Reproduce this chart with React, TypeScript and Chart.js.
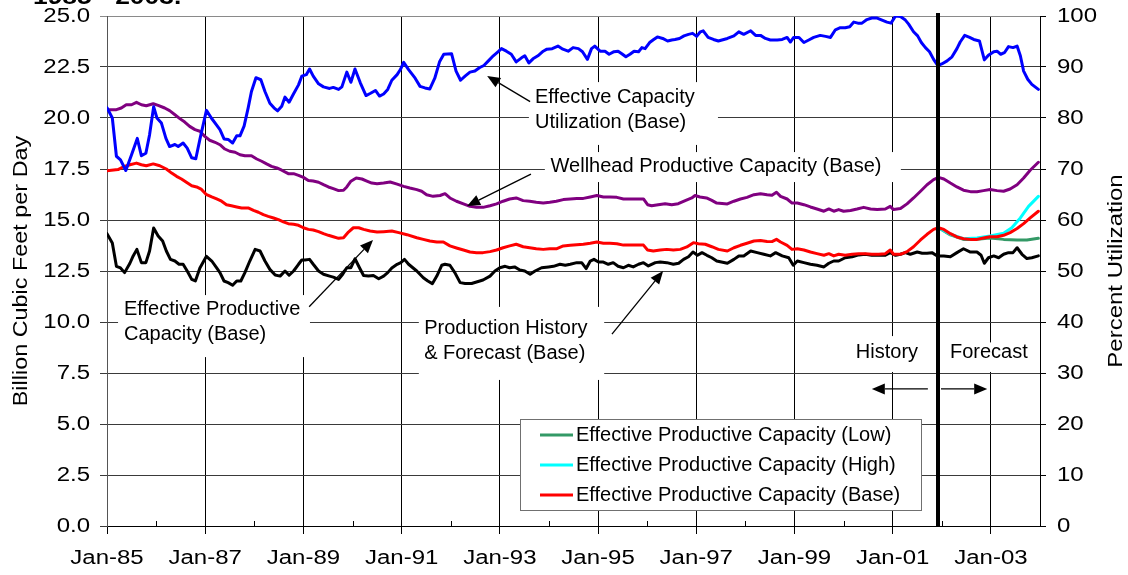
import React, { useEffect, useRef } from 'react';
import { Chart, registerables } from 'chart.js';

Chart.register(...registerables);

const FONT = '"Liberation Sans", Arial, Helvetica, sans-serif';

// x values are months after Jan-85
const X_MAX = 228;
const FORECAST_START = 203;
const X_MAJOR_TICKS = [0, 24, 48, 72, 96, 120, 144, 168, 192, 216];
const X_TICK_LABELS = ['Jan-85', 'Jan-87', 'Jan-89', 'Jan-91', 'Jan-93', 'Jan-95', 'Jan-97', 'Jan-99', 'Jan-01', 'Jan-03'];
const X_MINOR_TICKS = [12, 36, 60, 84, 108, 132, 156, 180, 204];
const LEFT_TICKS = [0, 2.5, 5, 7.5, 10, 12.5, 15, 17.5, 20, 22.5, 25];
const RIGHT_TICKS = [0, 10, 20, 30, 40, 50, 60, 70, 80, 90, 100];

const UTILIZATION_BASE: [number, number][] = [
  [0, 82], [1.3, 80], [2.3, 72.5], [3.3, 71.8], [4.6, 69.7], [6, 72.8], [7.4, 76], [8.4, 72.6], [9.5, 73.1], [10.4, 76.7],
  [11.4, 82.2], [12.2, 80], [13.3, 79], [14.4, 76], [15.3, 74.4], [16.6, 74.8], [17.4, 74.4], [18.6, 75.1], [19.6, 74.1],
  [20.7, 72.2], [21.7, 72], [22.7, 75.8], [24.3, 81.5], [25.5, 80], [26.7, 78.7], [27.6, 77.7], [28.6, 75.9], [29.6, 75.8],
  [30.7, 75.1], [31.7, 76.5], [32.5, 76.5], [33.5, 78.4], [34.5, 82], [35.3, 85.2], [36.4, 87.9], [37.6, 87.5], [38.6, 85.2],
  [39.8, 82.9], [40.8, 82], [41.7, 81.4], [42.7, 82.3], [43.5, 84.1], [44.5, 83.1], [45.5, 84.6], [46.8, 86.5], [47.6, 88.2],
  [48.7, 88.5], [49.5, 89.6], [50.4, 88.2], [51.7, 86.7], [52.9, 86.1], [54.4, 85.8], [55.3, 86], [56.6, 85.6], [57.4, 86.1],
  [58.6, 89], [59.6, 87], [60.6, 89.6], [61.9, 86.9], [63.3, 84.4], [64.3, 84.8], [65.6, 85.4], [66.6, 84.3], [67.6, 84.7],
  [68.6, 85.6], [69.6, 87.4], [70.9, 88.5], [71.7, 89.5], [72.5, 90.9], [73.7, 89.5], [75.3, 87.8], [76.5, 86.2], [77.7, 85.9],
  [78.9, 85.7], [80.1, 87.8], [81.3, 91.1], [82.3, 92.5], [84.2, 92.6], [85.3, 89.2], [86.4, 87.4], [87.5, 88.2], [88.7, 89],
  [89.9, 89.2], [91.1, 89.9], [92.1, 90.3], [93.2, 91.2], [94.4, 92.2], [95.6, 93], [96.4, 93.6], [97.6, 93.1], [98.8, 92.5],
  [100, 91], [101.3, 91.8], [102.1, 92.2], [103.1, 90.8], [104.1, 91.6], [105.3, 92.2], [106.6, 93.1], [107.5, 93.5],
  [108.8, 93.6], [110.2, 94.1], [111.4, 93.5], [112.7, 93.1], [113.9, 93.8], [115.2, 93.6], [116.2, 93], [117.4, 91.5],
  [118.4, 93.6], [119.2, 94.1], [120.5, 93.1], [121.7, 93.1], [122.7, 92.5], [123.9, 93], [124.9, 93.1], [125.8, 92.6],
  [126.8, 92], [127.8, 92.5], [128.8, 93.1], [129.9, 93], [130.7, 93.8], [131.5, 93.6], [132.6, 94.8], [133.6, 95.4],
  [134.5, 95.9], [135.8, 95.6], [137, 95.1], [138, 95.3], [138.8, 95.4], [139.9, 95.6], [141, 96.1], [142.1, 96.4],
  [143.1, 96.6], [144.1, 96], [145, 96.9], [145.7, 97.1], [146.9, 95.8], [148.2, 95.4], [149.4, 95.1], [151.6, 95.6],
  [153.2, 96.1], [154.4, 96.9], [155.6, 96.4], [157.3, 97.1], [158.5, 96.2], [159.7, 96.2], [160.9, 95.6], [162.1, 95.3],
  [163.8, 95.3], [165, 95.4], [166.2, 95.8], [167, 94.9], [167.8, 95.8], [169.1, 95.8], [170.3, 94.8], [171.5, 95.3],
  [172.7, 95.8], [174.3, 96.2], [175.6, 96], [176.8, 95.8], [178, 97.3], [179.2, 97.7], [180.4, 97.7], [181.5, 97.9],
  [182.5, 98.8], [183.5, 98.6], [184.5, 98.6], [185.7, 99.3], [186.9, 99.6], [188.2, 99.6], [189.4, 99.2], [190.6, 98.8],
  [191.6, 98.6], [192.7, 100], [193.9, 99.9], [195.1, 99.2], [195.9, 98.4], [197.1, 96.9], [198.1, 96.1], [199, 94.8],
  [200, 93.8], [201, 93], [202, 91.5], [203, 90.3], [204, 90.6], [205.3, 91.2], [206.5, 92], [207.7, 93.6], [208.5, 94.9],
  [209.6, 96.2], [210.8, 95.8], [211.8, 95.4], [213.2, 95.1], [214.4, 91.4], [215.4, 92.3], [216.7, 93], [217.5, 93.1],
  [218.4, 92.5], [219.3, 92.8], [220.3, 94], [221.4, 93.8], [222.4, 94.1], [223.2, 92.2], [224, 89.2], [225, 87.6],
  [226, 86.6], [227.6, 85.6],
];

const WELLHEAD_BASE: [number, number][] = [
  [0, 20.41], [2.3, 20.41], [3.5, 20.49], [4.7, 20.65], [6, 20.65], [7.2, 20.77], [8.4, 20.65], [9.6, 20.6], [11.3, 20.7],
  [12.5, 20.62], [14.1, 20.49], [15.3, 20.36], [16.6, 20.16], [17.8, 19.97], [19, 19.8], [20.2, 19.59], [21.5, 19.43],
  [22.7, 19.35], [23.9, 19.1], [25.1, 18.91], [26.4, 18.81], [27.6, 18.69], [28.8, 18.48], [30, 18.37], [31.3, 18.32],
  [32.5, 18.2], [33.7, 18.15], [35.3, 18.15], [36.6, 17.99], [37.8, 17.88], [39, 17.75], [40.2, 17.63], [41.5, 17.55],
  [42.7, 17.44], [44.3, 17.27], [45.6, 17.27], [46.8, 17.19], [48, 17.09], [49.2, 16.94], [50.4, 16.91], [51.7, 16.85],
  [52.9, 16.73], [54.1, 16.62], [55.3, 16.54], [56.6, 16.44], [57.8, 16.46], [58.6, 16.62], [59.6, 16.9], [60.9, 17.06],
  [62.3, 17.01], [63.5, 16.91], [64.7, 16.81], [66, 16.78], [67.6, 16.81], [69.2, 16.86], [70.9, 16.76], [72.5, 16.65],
  [74, 16.57], [75.7, 16.49], [76.9, 16.41], [78.1, 16.24], [79.7, 16.16], [81.4, 16.2], [82.6, 16.29], [83.8, 16.08],
  [85.4, 15.92], [87.1, 15.79], [88.7, 15.67], [90.3, 15.62], [91.9, 15.62], [93.6, 15.7], [95.2, 15.79], [96.8, 15.92],
  [98.4, 16.03], [100, 16.08], [101.7, 15.95], [103.3, 15.92], [104.9, 15.87], [106.6, 15.83], [108.2, 15.87], [109.8, 15.92],
  [111.5, 16.0], [113.2, 16.03], [114.8, 16.05], [116.4, 16.06], [118.1, 16.13], [119.7, 16.2], [121.3, 16.13], [122.9, 16.13],
  [124.6, 16.11], [126.2, 16.03], [127.8, 16.03], [129.5, 16.03], [131.1, 16.03], [132.1, 15.75], [133.1, 15.7], [134.7, 15.75],
  [136.4, 15.8], [138, 15.75], [139.6, 15.8], [141.3, 15.95], [142.9, 16.08], [143.7, 16.2], [144.9, 16.13], [146.5, 16.08],
  [147.8, 15.96], [149, 15.83], [151.6, 15.79], [153.2, 15.92], [154.8, 16.03], [156.4, 16.11], [158.1, 16.24], [159.7, 16.29],
  [161.3, 16.24], [162.5, 16.21], [163.6, 16.36], [164.6, 16.16], [166.2, 16.03], [167.4, 15.83], [168.7, 15.83], [170.3, 15.75],
  [171.9, 15.64], [173.5, 15.54], [175.2, 15.43], [176.4, 15.54], [177.6, 15.43], [178.8, 15.51], [180, 15.43], [181.7, 15.47],
  [183.3, 15.54], [184.9, 15.62], [186.6, 15.54], [188.2, 15.51], [190.2, 15.54], [191.4, 15.67], [192.2, 15.51], [193.9, 15.56],
  [195.5, 15.79], [197.1, 16.08], [198.8, 16.41], [200.4, 16.73], [202, 16.98], [203.2, 17.09], [204.5, 17.01], [206.1, 16.81],
  [207.7, 16.62], [209.3, 16.46], [211, 16.39], [212.6, 16.39], [214.2, 16.44], [215.8, 16.49], [217.5, 16.44], [219.1, 16.41],
  [220.7, 16.52], [222.4, 16.73], [224, 17.06], [225.6, 17.44], [227.6, 17.83],
];

const EFFECTIVE_BASE: [number, number][] = [
  [0, 17.42], [2.7, 17.47], [3.9, 17.6], [5.6, 17.71], [7.2, 17.79], [8.4, 17.71], [9.6, 17.66], [11.3, 17.75], [12.9, 17.66],
  [14.5, 17.5], [15.8, 17.3], [17, 17.14], [18.2, 17.01], [19.4, 16.85], [20.7, 16.68], [21.9, 16.62], [23.1, 16.5],
  [24.2, 16.26], [25.6, 16.13], [26.8, 16.03], [28, 15.92], [29.2, 15.75], [30.4, 15.7], [31.7, 15.64], [32.9, 15.59],
  [34.5, 15.59], [35.8, 15.47], [37, 15.38], [38.2, 15.26], [39.4, 15.18], [40.7, 15.1], [41.9, 15.02], [43.1, 14.91],
  [44.3, 14.82], [45.6, 14.79], [46.8, 14.74], [48, 14.62], [49.2, 14.54], [50.4, 14.51], [51.7, 14.43], [52.9, 14.33],
  [54.1, 14.25], [55.3, 14.18], [56.6, 14.1], [57.8, 14.13], [59, 14.41], [60.2, 14.62], [61.5, 14.62], [62.7, 14.54],
  [64.3, 14.46], [66, 14.41], [67.6, 14.43], [69.6, 14.46], [71.3, 14.38], [73.3, 14.28], [75.7, 14.13], [77.3, 14.05],
  [78.9, 13.97], [80.6, 13.92], [82.2, 13.92], [83.8, 13.73], [85.4, 13.63], [87.1, 13.53], [88.7, 13.43], [90.3, 13.4],
  [91.9, 13.4], [93.6, 13.45], [95.2, 13.53], [96.8, 13.64], [98.4, 13.73], [100, 13.81], [101.7, 13.69], [103.3, 13.64],
  [104.9, 13.59], [106.6, 13.56], [108.2, 13.59], [109.8, 13.59], [111.5, 13.73], [113.2, 13.76], [114.8, 13.79],
  [116.4, 13.81], [118.1, 13.86], [119.7, 13.92], [121.3, 13.86], [122.9, 13.86], [124.6, 13.84], [126.2, 13.77],
  [127.8, 13.77], [129.5, 13.77], [131.1, 13.77], [132.1, 13.53], [133.5, 13.48], [135.2, 13.53], [136.8, 13.56],
  [138.4, 13.53], [140.1, 13.56], [141.7, 13.68], [143.3, 13.89], [144.5, 13.84], [146.2, 13.81], [147.8, 13.69],
  [149.4, 13.56], [151.6, 13.48], [153.2, 13.64], [154.8, 13.76], [156.4, 13.86], [158.1, 13.97], [159.7, 13.99],
  [161.3, 13.95], [162.5, 13.94], [163.6, 14.05], [164.6, 13.92], [166.2, 13.76], [167.4, 13.56], [168.7, 13.59],
  [170.3, 13.53], [171.9, 13.43], [173.5, 13.35], [175.2, 13.27], [176.4, 13.35], [177.6, 13.24], [178.8, 13.32],
  [180.4, 13.27], [182.1, 13.32], [183.7, 13.35], [185.3, 13.35], [186.9, 13.32], [188.6, 13.32], [190.2, 13.35],
  [191.4, 13.53], [192.2, 13.32], [193.9, 13.32], [195.5, 13.45], [197.1, 13.69], [198.8, 14.02], [200.4, 14.3],
  [202, 14.54], [203.2, 14.62], [204.5, 14.54], [206.1, 14.33], [207.7, 14.17], [209.3, 14.08], [211, 14.05],
  [212.6, 14.05], [214.2, 14.12], [215.8, 14.18], [217.5, 14.18], [219.1, 14.25], [220.7, 14.38], [222.4, 14.58],
  [224, 14.82], [225.6, 15.1], [227.6, 15.43],
];

const EFFECTIVE_HIGH: [number, number][] = [
  [203.2, 14.62], [206.1, 14.3], [209.3, 14.08], [212.6, 14.12], [215.8, 14.22], [219.1, 14.35], [221.1, 14.62],
  [223.2, 15.1], [225.2, 15.67], [227.6, 16.16],
];

const EFFECTIVE_LOW: [number, number][] = [
  [203.2, 14.62], [206.1, 14.27], [209.3, 14.05], [212.6, 14.05], [215.8, 14.12], [219.1, 14.05], [222.4, 14.02],
  [224.8, 14.02], [227.6, 14.1],
];

const PRODUCTION_BASE: [number, number][] = [
  [0, 14.33], [1.3, 13.87], [2.3, 12.73], [3.3, 12.65], [4.3, 12.42], [5.6, 12.88], [6.4, 13.24], [7.3, 13.56], [8.4, 12.91],
  [9.5, 12.91], [10.4, 13.48], [11.4, 14.61], [12.5, 14.22], [13.6, 13.97], [14.5, 13.48], [15.5, 13.07], [16.6, 12.99],
  [17.6, 12.83], [18.6, 12.83], [19.6, 12.5], [20.7, 12.09], [21.6, 12.01], [22.7, 12.65], [24.3, 13.22], [25.6, 12.99],
  [26.8, 12.65], [27.6, 12.42], [28.6, 12.01], [29.6, 11.93], [30.7, 11.8], [31.7, 12.01], [32.7, 12.01], [33.7, 12.42],
  [34.9, 12.99], [36.2, 13.56], [37.4, 13.48], [38.6, 12.99], [39.8, 12.58], [41.1, 12.3], [42.3, 12.25], [43.5, 12.5],
  [44.5, 12.29], [45.6, 12.5], [46.8, 12.83], [47.6, 13.04], [48.4, 13.04], [49.5, 13.07], [50.4, 12.83], [51.7, 12.5],
  [52.9, 12.34], [54.4, 12.25], [55.3, 12.2], [56.6, 12.09], [57.6, 12.34], [58.6, 12.66], [59.6, 12.66], [60.6, 13.1],
  [61.7, 12.66], [62.7, 12.28], [63.9, 12.25], [65.1, 12.28], [66.4, 12.12], [67.6, 12.25], [68.6, 12.42], [69.6, 12.65],
  [70.9, 12.83], [71.8, 12.91], [72.7, 13.07], [73.7, 12.83], [75.7, 12.5], [77.3, 12.17], [78.4, 12.01], [79.5, 11.88],
  [80.6, 12.25], [81.8, 12.78], [82.6, 12.83], [83.8, 12.78], [85, 12.42], [86.3, 11.93], [87.5, 11.89], [89.1, 11.89],
  [90.3, 11.96], [91.9, 12.06], [93.6, 12.25], [94.8, 12.5], [96, 12.66], [97.3, 12.73], [98.4, 12.66], [99.6, 12.7],
  [100.9, 12.55], [102.1, 12.5], [103.4, 12.34], [104.6, 12.5], [106.2, 12.66], [107.9, 12.7], [109.1, 12.73], [110.7, 12.83],
  [112, 12.78], [113.2, 12.83], [114.8, 12.91], [116, 12.91], [117.1, 12.62], [118.1, 12.99], [119, 13.07], [120.1, 12.94],
  [121.3, 12.94], [122.5, 12.83], [123.7, 12.91], [124.9, 12.73], [126.2, 12.66], [127.4, 12.78], [128.6, 12.7], [129.9, 12.83],
  [131.1, 12.91], [132.3, 12.75], [134, 12.91], [135.2, 12.94], [136.8, 12.91], [138.4, 12.83], [139.7, 12.88], [140.9, 13.07],
  [142.1, 13.2], [143.2, 13.43], [144.3, 13.27], [145.4, 13.4], [146.6, 13.27], [147.8, 13.15], [149, 12.99], [151.6, 12.88],
  [153.2, 13.07], [154.4, 13.24], [155.6, 13.24], [157.3, 13.48], [158.9, 13.4], [160.5, 13.32], [162.1, 13.24], [163.4, 13.4],
  [165, 13.24], [166.6, 13.15], [167.7, 12.78], [168.7, 12.99], [170.3, 12.91], [171.9, 12.83], [173.5, 12.78], [175.2, 12.7],
  [176.4, 12.88], [177.6, 12.99], [178.8, 12.99], [180.4, 13.15], [182.1, 13.2], [183.7, 13.29], [185.3, 13.32], [186.9, 13.27],
  [188.6, 13.29], [190.2, 13.27], [191.4, 13.4], [192.7, 13.27], [193.9, 13.32], [195.1, 13.4], [196.3, 13.32], [198, 13.43],
  [199.2, 13.37], [200.4, 13.37], [201.6, 13.4], [202.9, 13.24], [204.5, 13.24], [206.1, 13.2], [207.7, 13.4], [209.3, 13.59],
  [211, 13.43], [212.6, 13.43], [213.6, 13.27], [214.4, 12.88], [215.4, 13.15], [216.7, 13.24], [217.9, 13.15], [219.1, 13.32],
  [220.3, 13.4], [221.4, 13.4], [222.4, 13.64], [223.6, 13.32], [224.8, 13.11], [226, 13.15], [227.6, 13.24],
];

// Annotations in data coordinates (month, billion cubic feet per day)
const LABEL_BOXES = [
  { m1: 103.1, v1: 21.76, m2: 149.3, v2: 18.68 },
  { m1: 107.0, v1: 18.33, m2: 194.0, v2: 16.86 },
  { m1: 2.7, v1: 11.32, m2: 49.6, v2: 8.28 },
  { m1: 76.2, v1: 10.74, m2: 121.5, v2: 7.16 },
  { m1: 181.6, v1: 9.31, m2: 199.9, v2: 7.55 },
  { m1: 204.3, v1: 9.0, m2: 227.0, v2: 7.55 },
];
const LABEL_TEXTS = [
  { m: 104.6, v: 21.0, text: 'Effective Capacity' },
  { m: 104.6, v: 19.77, text: 'Utilization (Base)' },
  { m: 108.4, v: 17.61, text: 'Wellhead Productive Capacity (Base)' },
  { m: 4.15, v: 10.62, text: 'Effective Productive' },
  { m: 4.15, v: 9.41, text: 'Capacity (Base)' },
  { m: 77.5, v: 9.66, text: 'Production History' },
  { m: 77.5, v: 8.47, text: '& Forecast (Base)' },
  { m: 183.0, v: 8.51, text: 'History' },
  { m: 206.0, v: 8.51, text: 'Forecast' },
];
const ARROWS = [
  { m1: 103.4, v1: 20.8, m2: 92.9, v2: 22.06 },
  { m1: 103.6, v1: 17.25, m2: 88.0, v2: 15.69 },
  { m1: 49.4, v1: 10.75, m2: 65.0, v2: 14.02 },
  { m1: 123.4, v1: 9.41, m2: 135.9, v2: 12.5 },
  { m1: 200.6, v1: 6.72, m2: 186.9, v2: 6.72 },
  { m1: 203.8, v1: 6.72, m2: 215.1, v2: 6.72 },
];
const LEGEND_ITEMS = [
  { text: 'Effective Productive Capacity (Low)', color: '#339966' },
  { text: 'Effective Productive Capacity (High)', color: '#00FFFF' },
  { text: 'Effective Productive Capacity (Base)', color: '#FF0000' },
];

const toPts = (a: [number, number][]) => a.map(([x, y]) => ({ x, y }));

function stretched(ctx: CanvasRenderingContext2D, text: string, x: number, y: number, align: CanvasTextAlign, sx: number, rot = 0) {
  ctx.save();
  ctx.translate(x, y);
  if (rot) ctx.rotate(rot);
  ctx.scale(sx, 1);
  ctx.textAlign = align;
  ctx.fillText(text, 0, 0);
  ctx.restore();
}

function arrow(ctx: CanvasRenderingContext2D, x1: number, y1: number, x2: number, y2: number) {
  const ang = Math.atan2(y2 - y1, x2 - x1);
  const len = 13;
  const hw = 5.5;
  const bx = x2 - len * Math.cos(ang);
  const by = y2 - len * Math.sin(ang);
  ctx.beginPath();
  ctx.moveTo(x1, y1);
  ctx.lineTo(bx, by);
  ctx.stroke();
  ctx.beginPath();
  ctx.moveTo(x2, y2);
  ctx.lineTo(bx + hw * Math.sin(ang), by - hw * Math.cos(ang));
  ctx.lineTo(bx - hw * Math.sin(ang), by + hw * Math.cos(ang));
  ctx.closePath();
  ctx.fill();
}

const overlayPlugin = {
  id: 'overlay',
  beforeDatasetsDraw(chart: any) {
    const { ctx, scales } = chart;
    const xs = scales.x;
    const ys = scales.y;
    ctx.save();
    ctx.fillStyle = '#ffffff';
    for (const b of LABEL_BOXES) {
      const x1 = xs.getPixelForValue(b.m1);
      const x2 = xs.getPixelForValue(b.m2);
      const y1 = ys.getPixelForValue(b.v1);
      const y2 = ys.getPixelForValue(b.v2);
      ctx.fillRect(x1, y1, x2 - x1, y2 - y1);
    }
    ctx.restore();
  },
  afterDatasetsDraw(chart: any) {
    const { ctx, scales, chartArea } = chart;
    const xs = scales.x;
    const ys = scales.y;
    const y1s = scales.y1;
    ctx.save();

    // forecast divider
    const fx = Math.round(xs.getPixelForValue(FORECAST_START));
    ctx.fillStyle = '#000';
    ctx.fillRect(fx - 2, chartArea.top - 3, 4, chartArea.bottom - chartArea.top + 4);

    // minor ticks on x axis (inside)
    ctx.strokeStyle = '#000';
    ctx.lineWidth = 1;
    for (const m of X_MINOR_TICKS) {
      const px = Math.round(xs.getPixelForValue(m)) + 0.5;
      ctx.beginPath();
      ctx.moveTo(px, chartArea.bottom);
      ctx.lineTo(px, chartArea.bottom - 5);
      ctx.stroke();
    }

    // arrows
    ctx.lineWidth = 1.3;
    ctx.strokeStyle = '#000';
    ctx.fillStyle = '#000';
    for (const a of ARROWS) {
      arrow(ctx, xs.getPixelForValue(a.m1), ys.getPixelForValue(a.v1), xs.getPixelForValue(a.m2), ys.getPixelForValue(a.v2));
    }

    // annotation texts
    ctx.font = `20px ${FONT}`;
    ctx.textBaseline = 'middle';
    ctx.fillStyle = '#000';
    for (const t of LABEL_TEXTS) {
      ctx.textAlign = 'left';
      ctx.fillText(t.text, xs.getPixelForValue(t.m), ys.getPixelForValue(t.v));
    }

    // legend
    const lx = 520.5, ly = 419.5, lw = 401, lh = 91;
    ctx.fillStyle = '#fff';
    ctx.fillRect(lx, ly, lw, lh);
    ctx.strokeStyle = '#707070';
    ctx.lineWidth = 1;
    ctx.strokeRect(lx, ly, lw, lh);
    LEGEND_ITEMS.forEach((it, i) => {
      const ry = 435 + i * 30;
      ctx.strokeStyle = it.color;
      ctx.lineWidth = 3;
      ctx.beginPath();
      ctx.moveTo(540, ry);
      ctx.lineTo(573, ry);
      ctx.stroke();
      ctx.fillStyle = '#000';
      ctx.textAlign = 'left';
      ctx.fillText(it.text, 576, ry);
    });

    // tick labels
    ctx.fillStyle = '#000';
    ctx.font = `20px ${FONT}`;
    ctx.textBaseline = 'middle';
    for (const v of LEFT_TICKS) {
      stretched(ctx, v.toFixed(1), 90, ys.getPixelForValue(v), 'right', 1.2);
    }
    for (const v of RIGHT_TICKS) {
      stretched(ctx, String(v), 1057, y1s.getPixelForValue(v), 'left', 1.2);
    }
    X_MAJOR_TICKS.forEach((m, i) => {
      stretched(ctx, X_TICK_LABELS[i], xs.getPixelForValue(m), 558, 'center', 1.2);
    });

    // axis titles
    const cy = (chartArea.top + chartArea.bottom) / 2;
    stretched(ctx, 'Billion Cubic Feet per Day', 21, cy, 'center', 1.17, -Math.PI / 2);
    stretched(ctx, 'Percent Utilization', 1116, cy, 'center', 1.2, -Math.PI / 2);

    // cut-off title at the top
    ctx.font = `bold 22px ${FONT}`;
    ctx.textBaseline = 'alphabetic';
    stretched(ctx, '1985 - 2003.', 33, 4, 'left', 1.2);

    ctx.restore();
  },
};

const lineDefaults = {
  pointRadius: 0,
  pointHoverRadius: 0,
  borderWidth: 3,
  tension: 0,
  fill: false,
  borderJoinStyle: 'round' as const,
  borderCapStyle: 'round' as const,
};

export default function App() {
  const ref = useRef<HTMLCanvasElement | null>(null);

  useEffect(() => {
    if (!ref.current) return;
    const chart = new Chart(ref.current, {
      type: 'line',
      data: {
        datasets: [
          { ...lineDefaults, label: 'Effective Capacity Utilization (Base)', data: toPts(UTILIZATION_BASE), yAxisID: 'y1', borderColor: '#0000FF', order: 1 },
          { ...lineDefaults, label: 'Wellhead Productive Capacity (Base)', data: toPts(WELLHEAD_BASE), yAxisID: 'y', borderColor: '#800080', order: 2 },
          { ...lineDefaults, label: 'Effective Productive Capacity (Base)', data: toPts(EFFECTIVE_BASE), yAxisID: 'y', borderColor: '#FF0000', order: 3 },
          { ...lineDefaults, label: 'Effective Productive Capacity (High)', data: toPts(EFFECTIVE_HIGH), yAxisID: 'y', borderColor: '#00FFFF', order: 4 },
          { ...lineDefaults, label: 'Effective Productive Capacity (Low)', data: toPts(EFFECTIVE_LOW), yAxisID: 'y', borderColor: '#339966', order: 5 },
          { ...lineDefaults, label: 'Production History & Forecast (Base)', data: toPts(PRODUCTION_BASE), yAxisID: 'y', borderColor: '#000000', order: 6 },
        ],
      },
      options: {
        responsive: false,
        animation: false,
        events: [],
        layout: { padding: { left: 100, right: 82, top: 16, bottom: 41 } },
        plugins: { legend: { display: false }, title: { display: false }, tooltip: { enabled: false } },
        scales: {
          x: {
            type: 'linear',
            min: 0,
            max: X_MAX,
            afterBuildTicks: (s: any) => { s.ticks = X_MAJOR_TICKS.map((v) => ({ value: v })); },
            afterFit: (s: any) => { s.height = 8; },
            ticks: { display: false },
            grid: { color: '#000', lineWidth: 1, tickLength: 8, tickColor: '#000' },
            border: { display: true, color: '#000', width: 1 },
          },
          y: {
            position: 'left',
            min: 0,
            max: 25,
            afterBuildTicks: (s: any) => { s.ticks = LEFT_TICKS.map((v) => ({ value: v })); },
            afterFit: (s: any) => { s.width = 7; },
            ticks: { display: false },
            grid: {
              color: (c: any) => (c.tick && c.tick.value === 25 ? '#8a8a8a' : '#3a3a3a'),
              lineWidth: 1,
              tickLength: 7,
            },
            border: { display: true, color: '#555', width: 1 },
          },
          y1: {
            position: 'right',
            min: 0,
            max: 100,
            afterBuildTicks: (s: any) => { s.ticks = RIGHT_TICKS.map((v) => ({ value: v })); },
            afterFit: (s: any) => { s.width = 6; },
            ticks: { display: false },
            grid: { drawOnChartArea: false, color: '#000', tickLength: 6 },
            border: { display: true, color: '#000', width: 1 },
          },
        },
      },
      plugins: [overlayPlugin],
    });
    return () => chart.destroy();
  }, []);

  return (
    <div style={{ position: 'fixed', left: 0, top: 0, width: 1128, height: 575, background: '#fff' }}>
      <canvas ref={ref} width={1128} height={575} style={{ display: 'block' }} />
    </div>
  );
}
